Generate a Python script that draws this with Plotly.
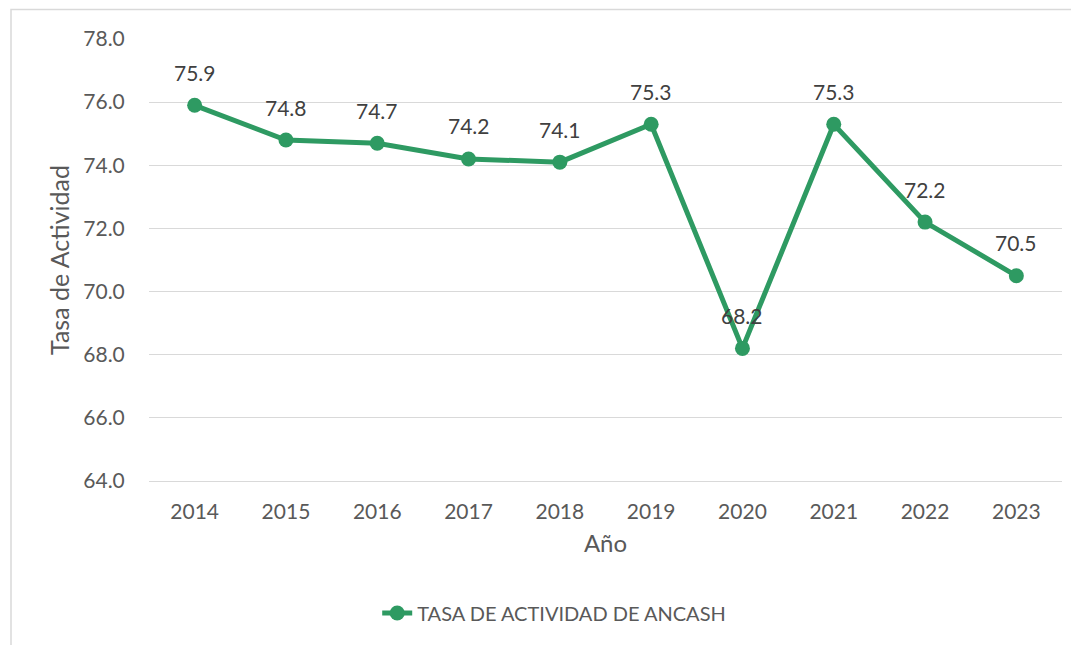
import plotly.graph_objects as go

years = ["2014", "2015", "2016", "2017", "2018", "2019", "2020", "2021", "2022", "2023"]
tasa = [75.9, 74.8, 74.7, 74.2, 74.1, 75.3, 68.2, 75.3, 72.2, 70.5]
y_ticks = [64, 66, 68, 70, 72, 74, 76, 78]
y_tick_labels = ["64.0", "66.0", "68.0", "70.0", "72.0", "74.0", "76.0", "78.0"]

green = "#2E9A62"
font_family = "Lato, 'Open Sans', sans-serif"
txt = "#595959"

fig = go.Figure()
fig.add_trace(go.Scatter(
    x=years, y=tasa, mode="lines+markers",
    name="TASA DE ACTIVIDAD DE ANCASH",
    line=dict(color=green, width=5),
    marker=dict(color=green, size=15),
))

annotations = [
    dict(x=i, y=v, xref="x", yref="y", text=f"{v:.1f}", showarrow=False,
         yshift=33, font=dict(size=21, color="#404040", family=font_family))
    for i, v in enumerate(tasa)
]

W, H = 1071, 637  # page body adds 8px offset
fig.update_layout(
    width=W, height=H,
    margin=dict(l=141, r=17, t=31, b=164),
    paper_bgcolor="white", plot_bgcolor="white",
    font=dict(family=font_family, size=20, color=txt),
    showlegend=True,
    legend=dict(orientation="h", xref="container", yref="container",
                x=0.51, xanchor="center", y=(637 - 605) / 637, yanchor="middle",
                font=dict(size=20, color=txt, family=font_family)),
    xaxis=dict(type="category", range=[-0.5, 9.5], showgrid=False,
               showline=True, linecolor="#D9D9D9", linewidth=1.2,
               ticks="outside", ticklen=12, tickcolor="rgba(0,0,0,0)",
               tickfont=dict(size=21, color=txt),
               title=dict(text="Año", font=dict(size=24, color=txt), standoff=12)),
    yaxis=dict(range=[64, 78], tickvals=y_ticks, ticktext=y_tick_labels,
               showgrid=True, gridcolor="#D9D9D9", gridwidth=1.2, zeroline=False,
               showline=False, ticks="outside", ticklen=19, tickcolor="rgba(0,0,0,0)",
               tickfont=dict(size=21, color=txt),
               title=dict(text="Tasa de Actividad", font=dict(size=25, color=txt), standoff=6)),
    annotations=annotations,
    shapes=[dict(type="rect", xref="paper", yref="paper",
                 x0=(3 - 141) / 913, x1=(1100 - 141) / 913,
                 y0=-(164 + 50) / 434, y1=1 + 29 / 434,
                 line=dict(color="#D9D9D9", width=1.5), fillcolor="rgba(0,0,0,0)",
                 layer="below")],
)

fig.write_html("out.html")
